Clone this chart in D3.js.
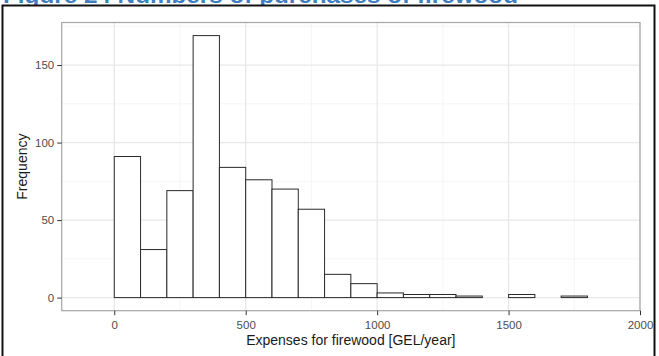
<!DOCTYPE html>
<html>
<head>
<meta charset="utf-8">
<script src="https://cdn.jsdelivr.net/npm/d3@7"></script>
<style>
  html, body { margin: 0; padding: 0; background: #fff; }
  svg { display: block; }
  text { font-family: "Liberation Sans", Arial, sans-serif; }
</style>
</head>
<body>
<svg id="chart" width="659" height="356"></svg>
<script>
// ---- Data ----
const titleText = "Figure 24 Numbers of purchases of firewood";
const xTitle = "Expenses for firewood [GEL/year]";
const yTitle = "Frequency";
const binWidth = 100;
const binStarts = [-100, 0, 100, 200, 300, 400, 500, 600, 700, 800, 900, 1000, 1100, 1200, 1300, 1400, 1500, 1600, 1700, 1800];
const counts    = [0, 91, 31, 69, 169, 84, 76, 70, 57, 15, 9, 3, 2, 2, 1, 0, 2, 0, 1, 0];
const xTicks = [0, 500, 1000, 1500, 2000];
const xMinor = [250, 750, 1250, 1750];
const yTicks = [0, 50, 100, 150];
const yMinor = [25, 75, 125, 175];

const svg = d3.select("#chart");

// Document title (cut off at the top)
svg.append("text")
  .attr("x", 3).attr("y", 3)
  .attr("font-size", 22).attr("font-weight", "bold")
  .attr("fill", "#3f7fc0")
  .attr("textLength", 515).attr("lengthAdjust", "spacingAndGlyphs")
  .text(titleText);

// Outer frame
svg.append("rect")
  .attr("x", 2.5).attr("y", 5.5).attr("width", 652).attr("height", 360)
  .attr("fill", "#fff").attr("stroke", "#111").attr("stroke-width", 2);

// Panel geometry
const pL = 61.7, pR = 640, pT = 22.5, pB = 310.7;
const xMin = -100, xMax = 1900;
const xPad = (xMax - xMin) * 0.05;
const yMax = d3.max(counts);
const yPad = yMax * 0.05;

const x = d3.scaleLinear().domain([xMin - xPad, xMax + xPad]).range([pL, pR]);
const y = d3.scaleLinear().domain([-yPad, yMax + yPad]).range([pB, pT]);

const g = svg.append("g");

// Minor grid
g.selectAll(".xminor").data(xMinor).join("line")
  .attr("x1", d => x(d)).attr("x2", d => x(d)).attr("y1", pT).attr("y2", pB)
  .attr("stroke", "#f3f3f3").attr("stroke-width", 0.8);
g.selectAll(".yminor").data(yMinor).join("line")
  .attr("y1", d => y(d)).attr("y2", d => y(d)).attr("x1", pL).attr("x2", pR)
  .attr("stroke", "#f3f3f3").attr("stroke-width", 0.8);
// Major grid
g.selectAll(".xmajor").data(xTicks).join("line")
  .attr("x1", d => x(d)).attr("x2", d => x(d)).attr("y1", pT).attr("y2", pB)
  .attr("stroke", "#e8e8e8").attr("stroke-width", 1.3);
g.selectAll(".ymajor").data(yTicks).join("line")
  .attr("y1", d => y(d)).attr("y2", d => y(d)).attr("x1", pL).attr("x2", pR)
  .attr("stroke", "#e8e8e8").attr("stroke-width", 1.3);

// Bars
const bins = binStarts.map((s, i) => ({ x0: s, x1: s + binWidth, n: counts[i] }));
g.selectAll(".bar").data(bins).join("rect")
  .attr("x", d => x(d.x0))
  .attr("width", d => x(d.x1) - x(d.x0))
  .attr("y", d => y(d.n))
  .attr("height", d => y(0) - y(d.n))
  .attr("fill", "#fff").attr("stroke", "#2a2a2a").attr("stroke-width", 1);

// Panel border
svg.append("rect")
  .attr("x", pL).attr("y", pT).attr("width", pR - pL).attr("height", pB - pT)
  .attr("fill", "none").attr("stroke", "#a6a6a6").attr("stroke-width", 1.2);

// Axes
const xAxis = d3.axisBottom(x).tickValues(xTicks).tickSize(4.5).tickPadding(3).tickFormat(d3.format("d"));
const yAxis = d3.axisLeft(y).tickValues(yTicks).tickSize(4.5).tickPadding(3).tickFormat(d3.format("d"));

const gx = svg.append("g").attr("transform", `translate(0,${pB})`).call(xAxis);
const gy = svg.append("g").attr("transform", `translate(${pL},0)`).call(yAxis);
[gx, gy].forEach(a => {
  a.select(".domain").remove();
  a.selectAll(".tick line").attr("stroke", "#333").attr("stroke-width", 1);
  a.selectAll(".tick text").attr("fill", "#4d4d4d").attr("font-size", 11.5)
    .attr("font-family", "'Liberation Sans', Arial, sans-serif");
});
gx.selectAll(".tick text").attr("dy", null).attr("y", 18.5);

// Axis titles
svg.append("text")
  .attr("x", (pL + pR) / 2).attr("y", 345)
  .attr("text-anchor", "middle").attr("font-size", 14).attr("fill", "#1a1a1a")
  .text(xTitle);
svg.append("text")
  .attr("transform", `translate(27,${(pT + pB) / 2}) rotate(-90)`)
  .attr("text-anchor", "middle").attr("font-size", 14).attr("fill", "#1a1a1a")
  .text(yTitle);
</script>
</body>
</html>
